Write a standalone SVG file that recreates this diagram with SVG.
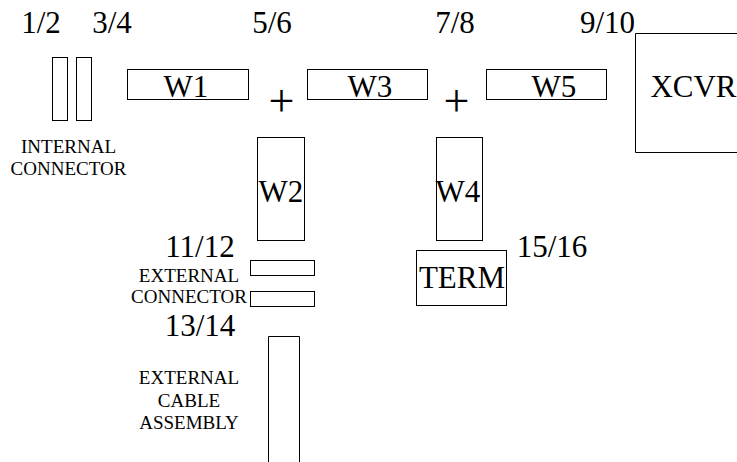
<svg xmlns="http://www.w3.org/2000/svg" width="737" height="462" viewBox="0 0 737 462">
<style>
.b{fill:#fff;stroke:#000;stroke-width:1}
text{font-family:"Liberation Serif",serif;fill:#000;text-anchor:middle}
.l{font-size:31px}
.s{font-size:19px}
.p{font-size:46px}
</style>
<rect width="737" height="462" fill="#fff"/>
<g id="conn12"><rect class="b" x="52.500" y="57.500" width="15" height="63"/><text class="l" x="41" y="33">1/2</text></g>
<g id="conn34"><rect class="b" x="76.500" y="57.500" width="15" height="63"/><text class="l" x="112" y="33">3/4</text></g>
<g id="internal"><text class="s" x="68.500" y="153">INTERNAL</text><text class="s" x="68.500" y="175">CONNECTOR</text></g>
<g id="w1"><rect class="b" x="127.500" y="69.500" width="121" height="30"/><text class="l" x="186" y="97">W1</text></g>
<g id="w3"><rect class="b" x="307.500" y="69.500" width="120" height="30"/><text class="l" x="370" y="97">W3</text></g>
<g id="w5"><rect class="b" x="486.500" y="69.500" width="120" height="30"/><text class="l" x="554" y="97">W5</text></g>
<g id="xcvr"><path d="M737 33.500H635.500V152.500H737" fill="#fff" stroke="#000"/><text class="l" x="693.500" y="97">XCVR</text></g>
<g id="labels"><text class="l" x="272" y="33">5/6</text><text class="l" x="455" y="33">7/8</text><text class="l" x="607.500" y="33">9/10</text>
<text class="p" x="281.500" y="116">+</text><text class="p" x="456.500" y="116">+</text></g>
<g id="w2"><rect class="b" x="257.500" y="137.500" width="47" height="103"/></g>
<g id="w4"><rect class="b" x="436.500" y="137.500" width="46" height="103"/></g>
<text class="l" x="281" y="202">W2</text><text class="l" x="458" y="202">W4</text>
<g id="term"><rect class="b" x="416.500" y="250.500" width="90" height="55"/><text class="l" x="462" y="288">TERM</text><text class="l" x="552" y="257">15/16</text></g>
<g id="ext1"><rect class="b" x="250.500" y="260.500" width="64" height="15"/><text class="l" x="200" y="257">11/12</text></g>
<g id="ext2"><rect class="b" x="250.500" y="291.500" width="64" height="15"/><text class="l" x="200" y="336">13/14</text></g>
<g id="extlabel"><text class="s" x="189" y="282">EXTERNAL</text><text class="s" x="189" y="303">CONNECTOR</text></g>
<g id="cable"><path d="M268.500 462V336.500H299.500V462" fill="#fff" stroke="#000"/><text class="s" x="189" y="384">EXTERNAL</text><text class="s" x="189" y="407">CABLE</text><text class="s" x="189" y="429">ASSEMBLY</text></g>
<g id="connectors"></g>
</svg>
